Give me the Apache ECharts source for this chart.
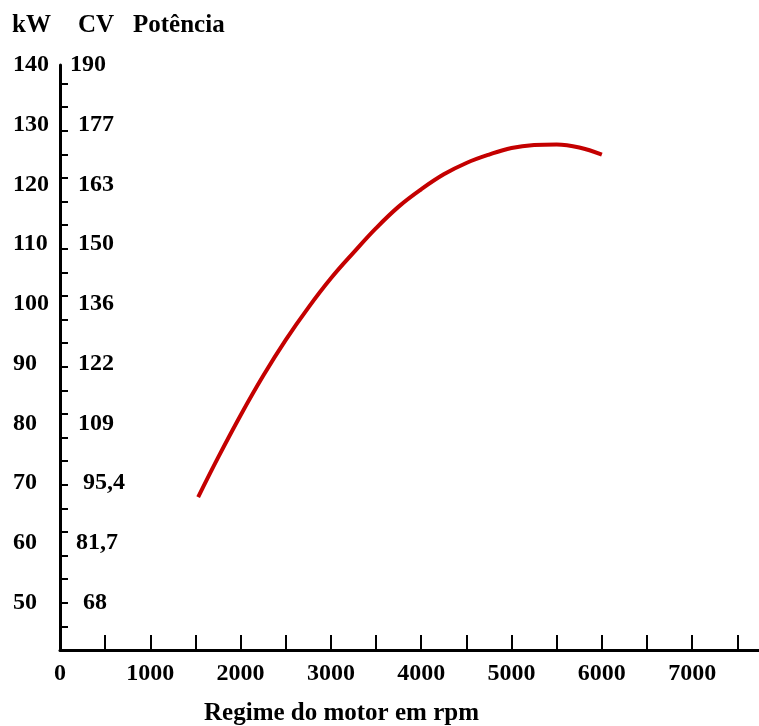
<!DOCTYPE html>
<html><head><meta charset="utf-8">
<script src="https://cdn.jsdelivr.net/npm/echarts@6/dist/echarts.min.js"></script>
<style>html,body{margin:0;padding:0;background:#fff}#c{width:759px;height:726px}</style>
</head><body><div id="c"></div>
<script>
// Data
const rpm = [1530, 1750, 2000, 2250, 2500, 2750, 3000, 3250, 3500, 3750, 4000, 4250, 4500, 4750, 5000, 5250, 5500, 5750, 6000];
const powerKW = [67.7, 74.3, 81.4, 88.0, 94.0, 99.4, 104.3, 108.6, 112.7, 116.3, 119.2, 121.7, 123.6, 125.0, 126.1, 126.6, 126.7, 126.2, 125.0];
const kwTickLabels = [50, 60, 70, 80, 90, 100, 110, 120, 130, 140];
const cvTickLabels = ['68', '81,7', '95,4', '109', '122', '136', '150', '163', '177', '190'];
const rpmTickLabels = [0, 1000, 2000, 3000, 4000, 5000, 6000, 7000];
const rpmMinorTicks = [500, 1000, 1500, 2000, 2500, 3000, 3500, 4000, 4500, 5000, 5500, 6000, 6500, 7000, 7500];
const kwMinorTicks = [1, 2, 3, 4, 5, 6, 7, 8, 9, 10, 11, 12, 13, 14, 15, 16, 17, 18, 19, 20, 21, 22, 23, 24];

// style: left indents of the CV labels
const cvIndent = [13, 6, 13, 8, 8, 8, 8, 8, 8, 0];

const FONT = 'Liberation Serif';
const baseText = { fontFamily: FONT, fontWeight: 'bold', color: '#000', fontSize: 24 };
const rich = {};
cvIndent.forEach((p, i) => { rich['i' + i] = Object.assign({}, baseText, { padding: [0, 0, 0, p] }); });

const chart = echarts.init(document.getElementById('c'), null, { renderer: 'canvas' });
chart.setOption({
  animation: false,
  backgroundColor: '#fff',
  title: [
    { text: 'kW', left: 12, top: 13, padding: 0, textStyle: Object.assign({}, baseText, { fontSize: 25 }) },
    { text: 'CV', left: 78, top: 13, padding: 0, textStyle: Object.assign({}, baseText, { fontSize: 25 }) },
    { text: 'Potência', left: 133, top: 13, padding: 0, textStyle: Object.assign({}, baseText, { fontSize: 25 }) }
  ],
  grid: { left: 60, right: 0, top: 65, bottom: 76, containLabel: false, outerBoundsMode: 'none' },
  xAxis: {
    type: 'value', min: 0, max: 7740,
    name: 'Regime do motor em rpm', nameLocation: 'middle', nameGap: 51,
    nameTextStyle: Object.assign({}, baseText, { fontSize: 25, padding: [0, 136, 0, 0] }),
    axisLine: { show: true, lineStyle: { color: '#000', width: 3 } },
    axisTick: { show: true, inside: true, length: 15, customValues: rpmMinorTicks, lineStyle: { color: '#000', width: 2 } },
    axisLabel: { show: true, customValues: rpmTickLabels, margin: 12, ...baseText, formatter: (v) => String(v) },
    splitLine: { show: false }
  },
  yAxis: [
    {
      type: 'value', min: 42.1, max: 140, position: 'left',
      axisLine: { show: true, lineStyle: { color: '#000', width: 3 } },
      axisTick: { show: false },
      axisLabel: { show: true, customValues: kwTickLabels, align: 'left', margin: 47, ...baseText, formatter: (v) => String(v) },
      splitLine: { show: false }
    },
    {
      type: 'value', min: 42.1, max: 140, position: 'left',
      axisLine: { show: false },
      axisTick: { show: false },
      axisLabel: {
        show: true, inside: true, customValues: kwTickLabels, margin: 10, ...baseText, rich: rich,
        formatter: (v) => { const i = kwTickLabels.indexOf(v); return '{i' + i + '|' + cvTickLabels[i] + '}'; }
      },
      splitLine: { show: false }
    },
    {
      type: 'value', min: 0, max: 24.79, position: 'left',
      axisLine: { show: false },
      axisTick: { show: true, inside: true, length: 8, customValues: kwMinorTicks, lineStyle: { color: '#000', width: 2 } },
      axisLabel: { show: false },
      splitLine: { show: false }
    }
  ],
  series: [{
    type: 'line', yAxisIndex: 0, smooth: 0.4, showSymbol: false,
    data: rpm.map((r, i) => [r, powerKW[i]]),
    lineStyle: { color: '#c40000', width: 4 }
  }]
});
</script></body></html>
